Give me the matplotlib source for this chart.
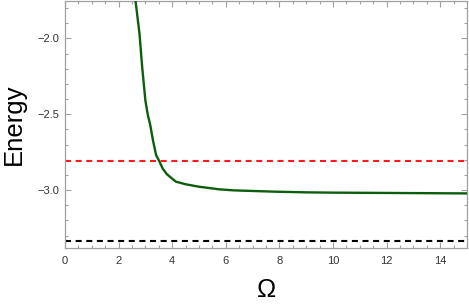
import matplotlib
matplotlib.use('Agg')
import matplotlib.pyplot as plt
from matplotlib.ticker import MultipleLocator

plt.rcParams['font.family'] = ['Liberation Sans', 'DejaVu Sans']

# data
omega = [2.55, 2.63, 2.78, 2.88, 3.00, 3.09, 3.18, 3.28, 3.40, 3.52, 3.65,
         3.80, 3.90, 4.14, 4.51, 5.0, 5.75, 6.3, 7.0, 7.92, 9.0, 10.0,
         11.0, 12.0, 13.0, 14.0, 15.0]
energy = [-1.60, -1.75, -1.97, -2.19, -2.41, -2.505, -2.57, -2.67, -2.77,
          -2.81, -2.86, -2.895, -2.91, -2.945, -2.962, -2.978, -2.995,
          -3.002, -3.006, -3.011, -3.015, -3.017, -3.018, -3.019, -3.020,
          -3.021, -3.022]
red_level = -2.811
black_level = -3.336

fig = plt.figure(figsize=(4.69, 3.05), dpi=100)
ax = fig.add_axes([65/469, 1 - 248/305, 402/469, 247.5/305])

ax.plot(omega, energy, color='#0b5e0b', lw=1.7, zorder=3)
ax.axhline(red_level, color='#ff1a1a', lw=1.5, dashes=(2.9, 2.2))
ax.axhline(black_level, color='black', lw=1.5, dashes=(2.9, 2.2))

ax.set_xlim(0, 15)
ax.set_ylim(-3.382, -1.75)
ax.xaxis.set_major_locator(MultipleLocator(2))
ax.xaxis.set_minor_locator(MultipleLocator(0.5))
ax.yaxis.set_major_locator(MultipleLocator(0.5))
ax.yaxis.set_minor_locator(MultipleLocator(0.1))
ax.yaxis.set_major_formatter(matplotlib.ticker.FuncFormatter(
    lambda v, p: ('%.1f' % v).replace('-', '\u2212')))

for s in ax.spines.values():
    s.set_color('#a0a0a0')
    s.set_linewidth(0.9)
ax.tick_params(which='both', direction='in', top=True, right=True,
               color='#a0a0a0', width=0.8, labelsize=8, labelcolor='#333333')
ax.tick_params(which='major', length=4)
ax.tick_params(which='minor', length=2.2)
ax.tick_params(axis='x', pad=6)
ax.tick_params(axis='y', pad=4)

ax.set_xlabel('\u03a9', fontsize=18.5)
ax.set_ylabel('Energy', fontsize=18.5)
ax.xaxis.set_label_coords(0.5, -0.122)
ax.yaxis.set_label_coords(-0.098, 0.5)

fig.savefig('out.png', dpi=100)
